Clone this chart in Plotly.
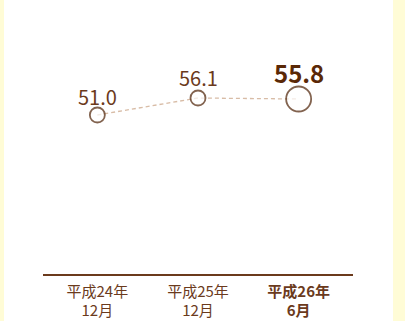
import plotly.graph_objects as go

categories = ["平成24年<br>12月", "平成25年<br>12月", "<b>平成26年<br>6月</b>"]
values = [51.0, 56.1, 55.8]
value_labels = ["51.0", "56.1", "<b>55.8</b>"]
marker_sizes = [15, 15, 25]

W, H = 405, 321
ML, MR, MT, MB = 43, 52, 20, 47
pw = W - ML - MR
ph = H - MT - MB

def px_x(p):
    return (p - ML) / pw

def px_y(p):
    return (H - MB - p) / ph

fig = go.Figure()
fig.add_trace(go.Scatter(
    x=categories, y=values, mode="lines+markers",
    line=dict(color="#d8bca6", width=1.3, dash="4px,3px"),
    marker=dict(size=marker_sizes, color="white", line=dict(color="#4e2206", width=1.8)),
    hoverinfo="skip", showlegend=False,
))

font_sizes = [20, 20, 24]
yshifts = [19, 21, 27]
colors = ["#6b3a1c", "#6b3a1c", "#5a2806"]
for c, v, t, fs, ys, col in zip(categories, values, value_labels, font_sizes, yshifts, colors):
    fig.add_annotation(x=c, y=v, text=t, showarrow=False, yshift=ys,
                       font=dict(size=fs, color=col, family="Noto Sans CJK JP"))

fig.add_shape(type="rect", xref="paper", yref="paper",
              x0=px_x(4), x1=px_x(393), y0=px_y(H + 5), y1=px_y(-5),
              fillcolor="white", line=dict(width=0), layer="below")

fig.update_layout(
    width=W, height=H,
    margin=dict(l=ML, r=MR, t=MT, b=MB, autoexpand=False),
    paper_bgcolor="#fffcd6", plot_bgcolor="rgba(0,0,0,0)",
    font=dict(family="Noto Sans CJK JP", color="#6b3a1c"),
    xaxis=dict(range=[-0.54, 2.54], showgrid=False, zeroline=False, automargin=False,
               showline=True, linecolor="#6b3a1c", linewidth=1.5,
               ticks="", ticklabelstandoff=3,
               tickfont=dict(size=15, color="#6b3a1c"), fixedrange=True),
    yaxis=dict(range=[3.3, 79.5], visible=False, fixedrange=True, automargin=False),
)

fig.write_html("out.html", config={"displayModeBar": False},
               post_script="document.body.style.margin='0';")
